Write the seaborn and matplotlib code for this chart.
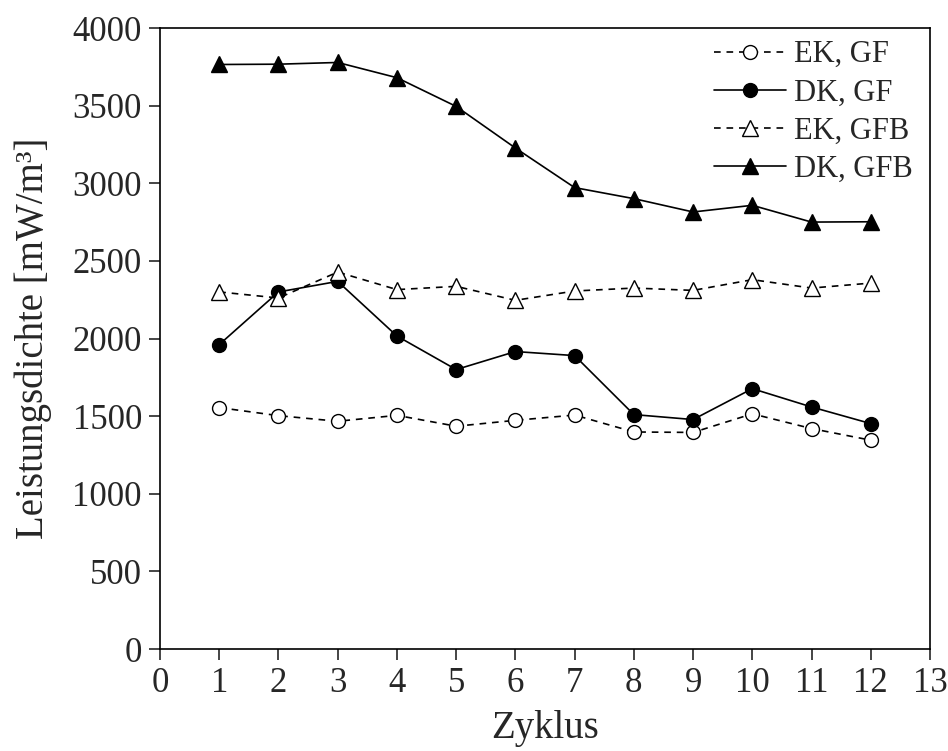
import matplotlib
matplotlib.use("Agg")
import matplotlib.pyplot as plt
import seaborn as sns
import pandas as pd

zyklus = list(range(1, 13))
ek_gf = [1555, 1503, 1467, 1505, 1435, 1473, 1507, 1398, 1395, 1515, 1420, 1345]
dk_gf = [1961, 2300, 2368, 2016, 1800, 1916, 1890, 1510, 1478, 1677, 1559, 1452]
ek_gfb = [2300, 2261, 2428, 2315, 2336, 2246, 2306, 2325, 2310, 2379, 2325, 2357]
dk_gfb = [3765, 3767, 3778, 3680, 3495, 3227, 2972, 2901, 2815, 2858, 2750, 2752]

series_names = ["EK, GF", "DK, GF", "EK, GFB", "DK, GFB"]
series_values = [ek_gf, dk_gf, ek_gfb, dk_gfb]

x_ticks = list(range(0, 14))
y_ticks = list(range(0, 4001, 500))

df = pd.DataFrame({
    "Zyklus": zyklus * len(series_names),
    "Leistungsdichte": [v for vals in series_values for v in vals],
    "Serie": [n for n in series_names for _ in zyklus],
})

sns.set_theme(style="white")
plt.rcParams["font.family"] = ["Liberation Serif", "DejaVu Serif"]

fig = plt.figure(figsize=(9.48, 7.51), dpi=100)
ax = fig.add_axes([0.1688, 0.1358, 0.8122, 0.8269])

styles = {
    "EK, GF": dict(marker="o", mfc="white", ms=10, ls=(0, (4, 3.5))),
    "DK, GF": dict(marker="o", mfc="black", ms=10, ls="-"),
    "EK, GFB": dict(marker="^", mfc="white", ms=11, ls=(0, (4, 3.5))),
    "DK, GFB": dict(marker="^", mfc="black", ms=11, ls="-"),
}

for name in series_names:
    st = styles[name]
    sns.lineplot(
        data=df[df["Serie"] == name], x="Zyklus", y="Leistungsdichte",
        ax=ax, color="black", linewidth=1.2, linestyle=st["ls"],
        marker=st["marker"], markersize=st["ms"],
        markerfacecolor=st["mfc"], markeredgecolor="black", markeredgewidth=1.0,
        label=name,
    )

ax.set_xlim(0, 13)
ax.set_ylim(0, 4000)
ax.set_xticks(x_ticks)
ax.set_yticks(y_ticks)
ax.tick_params(axis="both", which="major", direction="out", length=8, width=1.2,
               labelsize=25, bottom=True, left=True, top=False, right=False, pad=5)
for sp in ax.spines.values():
    sp.set_visible(True)
    sp.set_color("black")
    sp.set_linewidth(1.2)

ax.set_xlabel("Zyklus", fontsize=28, labelpad=7)
ax.set_ylabel("Leistungsdichte [mW/m³]", fontsize=28, labelpad=15)

leg = ax.legend(loc="upper right", bbox_to_anchor=(0.993, 1.0), frameon=False,
                fontsize=22, handlelength=2.35, handletextpad=0.26,
                labelspacing=0.3, borderaxespad=0.25, borderpad=0.15)

fig.savefig("out.png", dpi=100)
